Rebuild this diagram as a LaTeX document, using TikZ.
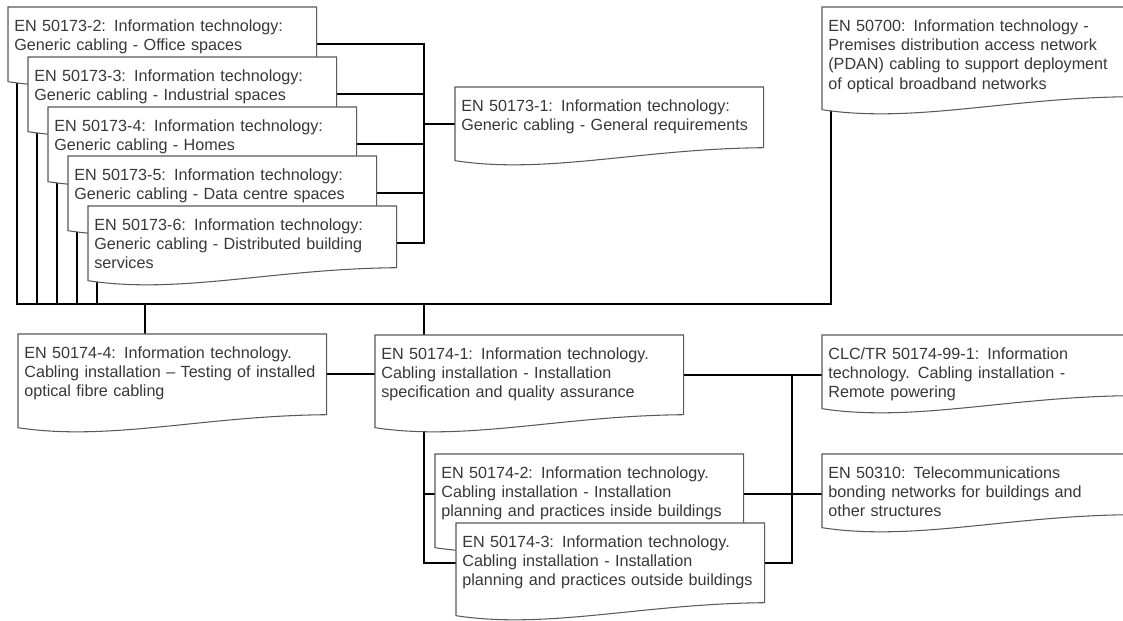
\documentclass[tikz,border=0pt]{standalone}
\usepackage{fontspec}
\setmainfont{Liberation Sans}
\usetikzlibrary{backgrounds}

% outline of a document shape round a named node
\newcommand{\docframe}[1]{%
	\filldraw[docline] (#1.south west) -- (#1.north west) -- (#1.north east)
		-- ([yshift=0.26cm]#1.south east)
		.. controls +(-123,1) and +(92,14) .. (#1.south west) -- cycle;}

\begin{document}
\begin{tikzpicture}[x=0.02cm, y=-0.02cm,
	docbox/.style={anchor=north west, align=left, text width=5.92cm, inner xsep=0.12cm,
		inner ysep=5pt, text height=8.5pt, text depth={#1*0.02cm-18.5pt},
		font=\fontsize{9.2}{11}\selectfont, text=black!78},
	docline/.style={draw=black!65, fill=white, line width=0.6pt},
	wire/.style={draw=black, line width=1.1pt}]

\useasboundingbox (0,0) rectangle (1123,621);

%nodes
				\node [docbox=74] (b2) at (8,7) {EN 50173-2: Information technology:\\Generic cabling - Office spaces};
				\node [docbox=74] (b3) at (28,57) {EN 50173-3: Information technology:\\Generic cabling - Industrial spaces};
				\node [docbox=74] (b4) at (48,107) {EN 50173-4: Information technology:\\Generic cabling - Homes};
				\node [docbox=74] (b5) at (68,156) {EN 50173-5: Information technology:\\Generic cabling - Data centre spaces};
				\node [docbox=74] (b6) at (88,206) {EN 50173-6: Information technology:\\Generic cabling - Distributed building\\services};
				\node [docbox=73] (b1) at (455,87) {EN 50173-1: Information technology:\\Generic cabling - General requirements};
				\node [docbox=102] (pdan) at (822,7) {EN 50700: Information technology -\\Premises distribution access network\\(PDAN) cabling to support deployment\\of optical broadband networks};
				\node [docbox=93] (it4) at (18,334) {EN 50174-4: Information technology.\\Cabling installation – Testing of installed\\optical fibre cabling};
				\node [docbox=92] (it1) at (375,335) {EN 50174-1: Information technology.\\Cabling installation - Installation\\specification and quality assurance};
				\node [docbox=93] (it2) at (435,454) {EN 50174-2: Information technology.\\Cabling installation - Installation\\planning and practices inside buildings};
				\node [docbox=92] (it3) at (456,523) {EN 50174-3: Information technology.\\Cabling installation - Installation\\planning and practices outside buildings};
				\node [docbox=73] (clc) at (822,335) {CLC/TR 50174-99-1: Information\\technology. Cabling installation -\\Remote powering};
				\node [docbox=73] (ep) at (822,454) {EN 50310: Telecommunications\\bonding networks for buildings and\\other structures};

%coordinates
				\coordinate (tbus) at (424,0);
				\coordinate (rbus) at (792,0);
				\coordinate (lbus) at (0,304);
				\coordinate (b2d) at ([xshift=0.18cm]b2.south west);
				\coordinate (b3d) at ([xshift=0.18cm]b3.south west);
				\coordinate (b4d) at ([xshift=0.18cm]b4.south west);
				\coordinate (b5d) at ([xshift=0.18cm]b5.south west);
				\coordinate (b6d) at ([xshift=0.18cm]b6.south west);
				\coordinate (pdand) at ([xshift=0.18cm]pdan.south west);
				\coordinate (it4t) at ([xshift=2.54cm]it4.north west);
				\coordinate (it4r) at ([yshift=0.13cm]it4.east);
				\coordinate (it1r) at ([yshift=0.13cm]it1.east);
				\coordinate (it2r) at ([yshift=0.13cm]it2.east);
				\coordinate (it2l) at ([yshift=0.13cm]it2.west);
				\coordinate (it3r) at ([yshift=0.13cm]it3.east);
				\coordinate (it3l) at ([yshift=0.13cm]it3.west);

\begin{scope}[on background layer]
%lineas
				\draw [wire] (b2.east) -- (b2.east -| tbus) -- (b6.east -| tbus) -- (b6.east);
				\draw [wire] (b3.east) -- (b3.east -| tbus);
				\draw [wire] (b4.east) -- (b4.east -| tbus);
				\draw [wire] (b5.east) -- (b5.east -| tbus);
				\draw [wire] (b1.west) -- (b1.west -| tbus);

				\draw [wire] (b2d) -- (b2d |- lbus) -- (pdand |- lbus) -- (pdand);
				\draw [wire] (b3d) -- (b3d |- lbus);
				\draw [wire] (b4d) -- (b4d |- lbus);
				\draw [wire] (b5d) -- (b5d |- lbus);
				\draw [wire] (b6d) -- (b6d |- lbus);

				\draw [wire] (it4t |- lbus) -- (it4t);
				\draw [wire] (tbus |- lbus) -- (tbus |- it1.north);
				\draw [wire] (it4r) -- (it4r -| it1.west);
				\draw [wire] (tbus |- it1.south) -- (tbus |- it3l) -- (it3l);
				\draw [wire] (tbus |- it2l) -- (it2l);

				\draw [wire] (it1r) -- (it1r -| clc.west);
				\draw [wire] (it1r -| rbus) -- (it3r -| rbus) -- (it3r);
				\draw [wire] (it2r) -- (it2r -| ep.west);

%boxes
				\docframe{b2}
				\docframe{b3}
				\docframe{b4}
				\docframe{b5}
				\docframe{b6}
				\docframe{b1}
				\docframe{pdan}
				\docframe{it4}
				\docframe{it1}
				\docframe{it2}
				\docframe{it3}
				\docframe{clc}
				\docframe{ep}
\end{scope}

\end{tikzpicture}
\end{document}
